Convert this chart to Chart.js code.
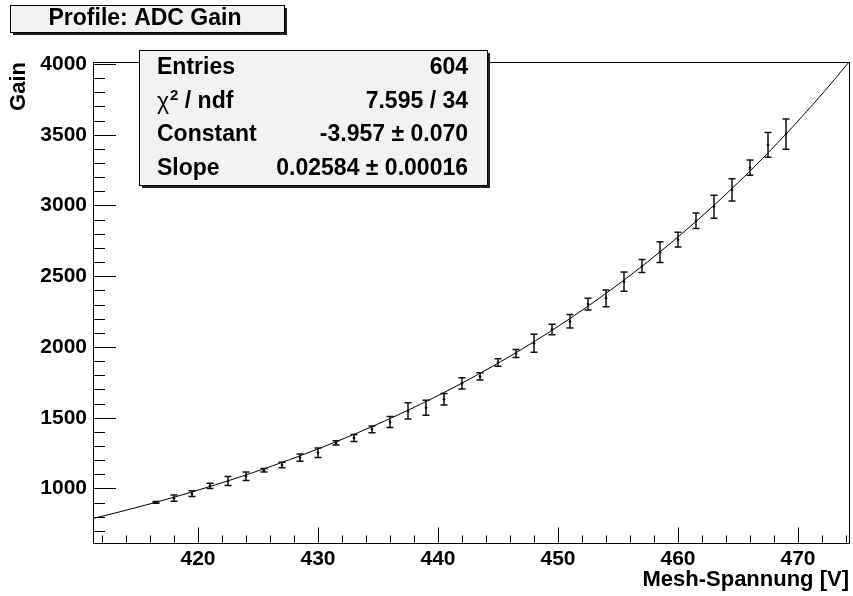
<!DOCTYPE html>
<html>
<head>
<meta charset="utf-8">
<script src="https://cdn.jsdelivr.net/npm/chart.js@4.4.0/dist/chart.umd.min.js"></script>
<style>
  body { margin: 0; background: #fff; }
  #wrap { width: 853px; height: 596px; }
</style>
</head>
<body>
<div id="wrap"><canvas id="gainChart" width="853" height="596"></canvas></div>
<script>
// profile bins (bin centres, V) with mean gain and error
const voltages = [416.5, 418, 419.5, 421, 422.5, 424, 425.5, 427, 428.5, 430,
    431.5, 433, 434.5, 436, 437.5, 439, 440.5, 442, 443.5, 445,
    446.5, 448, 449.5, 451, 452.5, 454, 455.5, 457, 458.5, 460,
    461.5, 463, 464.5, 466, 467.5, 469];
const gains = [902, 931, 963, 1018, 1053, 1086, 1129, 1166, 1218, 1252,
    1322, 1357, 1418, 1470, 1548, 1571, 1630, 1743, 1792, 1890,
    1954, 2026, 2124, 2182, 2303, 2344, 2461, 2572, 2670, 2758,
    2892, 2991, 3110, 3267, 3428, 3505];
const gainErrors = [6, 22, 20, 18, 32, 30, 12, 20, 26, 34,
    15, 25, 24, 39, 57, 53, 41, 40, 25, 26,
    28, 64, 37, 48, 42, 59, 68, 46, 73, 52,
    54, 82, 78, 54, 87, 107];

// expo fit result
const fitConstant = -3.957;
const fitSlope = 0.02584;

const xTicks = [420, 430, 440, 450, 460, 470];
const yTicks = [1000, 1500, 2000, 2500, 3000, 3500, 4000];
const xRange = [411.25, 474.25];
const yRange = [618, 4014];

const statNames = ['Entries', 'χ2 / ndf', 'Constant', 'Slope'];
const statValues = ['604', '7.595 / 34', '-3.957 ± 0.070', '0.02584 ± 0.00016'];

const FONT = '"Liberation Sans", Arial, Helvetica, sans-serif';
const BOLD = 'bold 22px ' + FONT;
const BOX_BOLD = 'bold 23px ' + FONT;

// sample the fitted exponential across the axis range
const fitCurve = [];
for (let v = xRange[0]; v <= xRange[1] + 1e-9; v += 0.25) {
    fitCurve.push({ x: v, y: Math.exp(fitConstant + fitSlope * v) });
}

function drawBox(ctx, x, y, w, h) {
    ctx.fillStyle = '#222';
    ctx.fillRect(x + 3, y + 3, w, h);
    ctx.fillStyle = '#f2f2f2';
    ctx.fillRect(x, y, w, h);
    ctx.strokeStyle = '#000';
    ctx.lineWidth = 1;
    ctx.strokeRect(x + 0.5, y + 0.5, w, h);
}

// "χ2 / ndf" with a raised 2
function drawChiLabel(ctx, x, y) {
    ctx.textAlign = 'left';
    ctx.font = '23px ' + FONT;
    ctx.fillText('χ', x, y + 1);
    let cx = x + ctx.measureText('χ').width + 1;
    ctx.font = 'bold 15px ' + FONT;
    ctx.fillText('2', cx, y - 6);
    cx += ctx.measureText('2').width;
    ctx.font = BOX_BOLD;
    ctx.fillText(' / ndf', cx, y);
}

const rootFrame = {
    id: 'rootFrame',
    afterDatasetsDraw(chart) {
        const { ctx, chartArea: a, scales: { x, y } } = chart;
        ctx.save();
        ctx.strokeStyle = '#111';
        ctx.lineWidth = 1.5;

        // error bars
        ctx.beginPath();
        voltages.forEach((v, i) => {
            const px = Math.round(x.getPixelForValue(v));
            const top = y.getPixelForValue(gains[i] + gainErrors[i]);
            const bot = y.getPixelForValue(gains[i] - gainErrors[i]);
            ctx.moveTo(px, top); ctx.lineTo(px, bot);
            ctx.moveTo(px - 3.5, top); ctx.lineTo(px + 3.5, top);
            ctx.moveTo(px - 3.5, bot); ctx.lineTo(px + 3.5, bot);
        });
        ctx.stroke();

        ctx.strokeStyle = '#000';
        ctx.lineWidth = 1;
        // frame
        ctx.strokeRect(Math.round(a.left) + 0.5, Math.round(a.top) + 0.5,
            Math.round(a.right - a.left), Math.round(a.bottom - a.top));

        // tick marks drawn inside the frame
        ctx.beginPath();
        for (let v = 700; v <= 4000; v += 100) {
            const py = Math.round(y.getPixelForValue(v)) + 0.5;
            const len = v % 500 === 0 ? 23 : 12;
            ctx.moveTo(a.left, py); ctx.lineTo(a.left + len, py);
        }
        for (let v = 412; v <= 474; v += 2) {
            const px = Math.round(x.getPixelForValue(v)) + 0.5;
            const len = v % 10 === 0 ? 15 : 7;
            ctx.moveTo(px, a.bottom); ctx.lineTo(px, a.bottom - len);
        }
        ctx.stroke();
        ctx.restore();
    },
    afterDraw(chart) {
        const { ctx, chartArea: a } = chart;
        ctx.save();

        // title box
        drawBox(ctx, 10, 5, 274, 27);
        ctx.fillStyle = '#000';
        ctx.font = BOX_BOLD;
        ctx.textAlign = 'center';
        ctx.textBaseline = 'middle';
        ctx.fillText('Profile: ADC Gain', 145, 19);

        // statistics box
        drawBox(ctx, 139, 50, 348, 135);
        ctx.fillStyle = '#000';
        statNames.forEach((name, i) => {
            const ty = 68 + i * 33.5;
            if (i === 1) {
                drawChiLabel(ctx, 157, ty);
            } else {
                ctx.font = BOX_BOLD;
                ctx.textAlign = 'left';
                ctx.fillText(name, 157, ty);
            }
            ctx.font = BOX_BOLD;
            ctx.textAlign = 'right';
            ctx.fillText(statValues[i], 468, ty);
        });

        // axis titles
        ctx.font = BOLD;
        ctx.textAlign = 'right';
        ctx.textBaseline = 'middle';
        ctx.fillText('Mesh-Spannung [V]', a.right, 580);
        ctx.translate(19, a.top);
        ctx.rotate(-Math.PI / 2);
        ctx.fillText('Gain', 0, 0);
        ctx.restore();
    }
};

const ctx = document.getElementById('gainChart').getContext('2d');
new Chart(ctx, {
    type: 'scatter',
    data: {
        datasets: [{
            label: 'Gain',
            data: voltages.map((v, i) => ({ x: v, y: gains[i] })),
            pointRadius: 1.3,
            pointBackgroundColor: '#000',
            pointBorderWidth: 0,
            showLine: false
        }, {
            label: 'expo',
            type: 'line',
            data: fitCurve,
            borderColor: '#000',
            borderWidth: 1,
            pointRadius: 0,
            tension: 0
        }]
    },
    options: {
        responsive: false,
        animation: false,
        layout: { padding: { left: 0, top: 62, right: 4, bottom: 0 } },
        plugins: { legend: { display: false }, tooltip: { enabled: false } },
        scales: {
            x: {
                type: 'linear',
                min: xRange[0],
                max: xRange[1],
                grid: { display: false, drawTicks: false },
                border: { display: false },
                afterBuildTicks: s => { s.ticks = xTicks.map(v => ({ value: v })); },
                afterFit: s => { s.height = 53.5; },
                ticks: {
                    autoSkip: false,
                    maxRotation: 0,
                    padding: 4,
                    color: '#000',
                    callback: v => String(v),
                    font: { family: FONT, size: 21, weight: 'bold' }
                }
            },
            y: {
                type: 'linear',
                min: yRange[0],
                max: yRange[1],
                grid: { display: false, drawTicks: false },
                border: { display: false },
                afterBuildTicks: s => { s.ticks = yTicks.map(v => ({ value: v })); },
                afterFit: s => { s.width = 93; },
                ticks: {
                    padding: 6,
                    color: '#000',
                    callback: v => String(v),
                    font: { family: FONT, size: 21, weight: 'bold' }
                }
            }
        }
    },
    plugins: [rootFrame]
});
</script>
</body>
</html>
